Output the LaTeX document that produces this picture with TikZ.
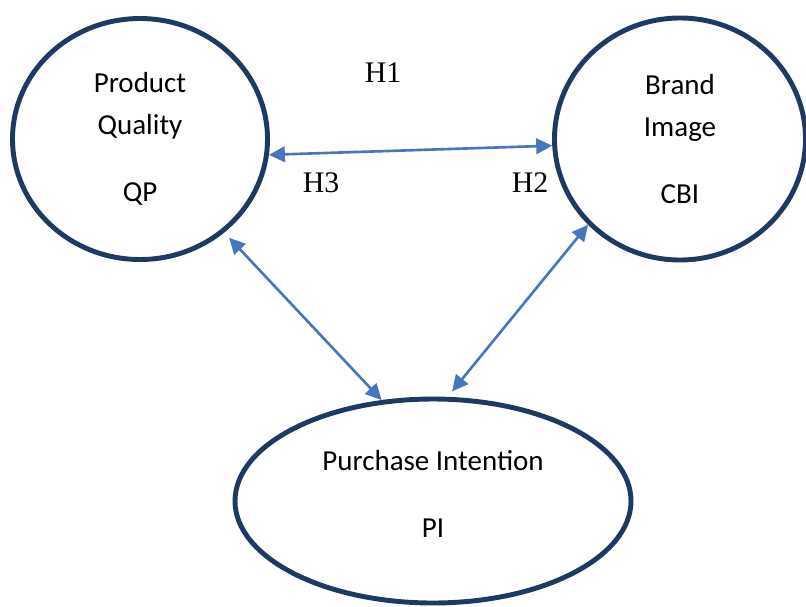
\documentclass[tikz,border=0pt]{standalone}
\usepackage{fontspec}
\usepackage{tikz}
\usepackage{xcolor}
\usetikzlibrary{positioning, arrows.meta, shapes.geometric, calc}
\setmainfont{Carlito}
\newfontfamily\hypfont{Liberation Serif}
\definecolor{mNavy}{HTML}{1F3A62}
\definecolor{mBlue}{HTML}{4677BE}

\begin{document}
\begin{tikzpicture}[
  construct/.style={draw=mNavy, line width=2.8pt, ellipse, align=center,
                    inner sep=0pt, font=\fontsize{16.5}{23.8}\selectfont},
  link/.style={draw=mBlue, line width=1.5pt,
               {Triangle[length=3.2mm, width=3.1mm]}-{Triangle[length=3.2mm, width=3.1mm]}},
  hyp/.style={font=\hypfont\fontsize{17}{20}\selectfont},
]
  \useasboundingbox (0,0) rectangle (16.12,-12.12);

  % the three constructs
  \node[construct, minimum width=5.1cm, minimum height=4.82cm] (qp) at (2.8, -2.78)
    {Product\\Quality\\[0.5cm]QP};
  \node[construct, minimum width=5.02cm, minimum height=4.84cm] (cbi) at (13.6, -2.78)
    {Brand\\Image\\[0.5cm]CBI};
  \node[construct, minimum width=7.92cm, minimum height=4.08cm, text depth=8pt] (pi) at (8.66, -10.02)
    {Purchase Intention\\[0.5cm]PI};

  % relations between them
  \draw[link] (qp.-7) -- (cbi.183);
  \draw[link, shorten <=4pt] (qp.-48) -- (pi.117);
  \draw[link, shorten >=4pt] (cbi.223) -- (pi.82);

  % hypothesis labels
  \node[hyp] (h1) at (7.66, -1.45) {H1};
  \node[hyp] (h3) at (6.42, -3.66) {H3};
  \node[hyp] (h2) at (10.6, -3.66) {H2};
\end{tikzpicture}
\end{document}
